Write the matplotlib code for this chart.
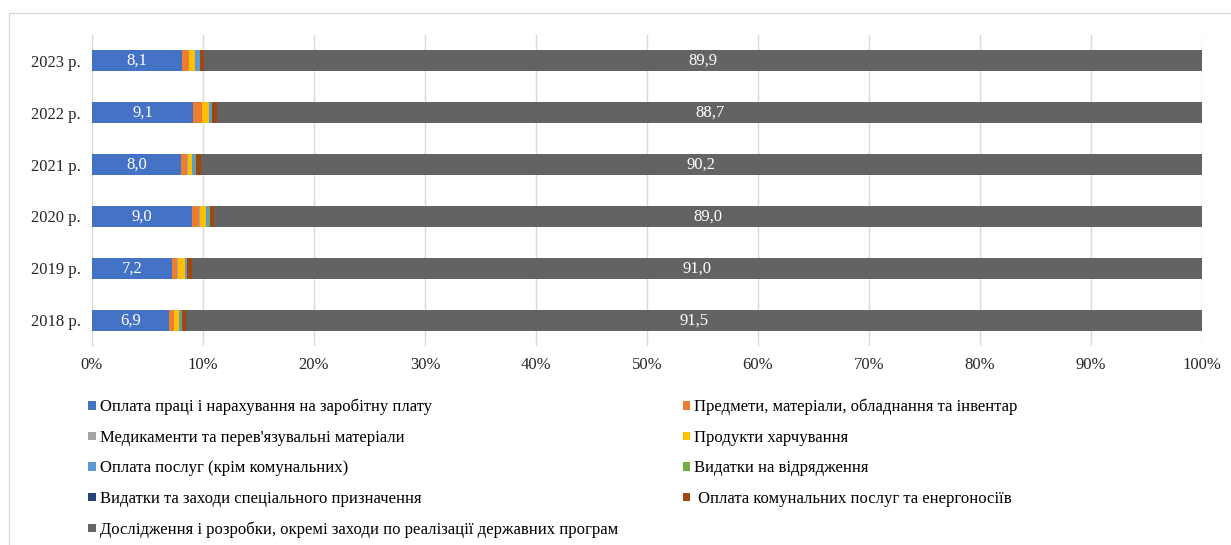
import numpy as np
import matplotlib.pyplot as plt
from matplotlib.patches import Rectangle, Patch

plt.rcParams['font.family'] = ['Liberation Serif', 'DejaVu Serif']

years = ['2018 р.', '2019 р.', '2020 р.', '2021 р.', '2022 р.', '2023 р.']

# shares, % (bottom-to-top order: 2018 ... 2023)
salary = [6.9, 7.2, 9.0, 8.0, 9.1, 8.1]
items = [0.45, 0.5, 0.65, 0.6, 0.8, 0.6]
medicine = [0.05, 0.05, 0.05, 0.05, 0.05, 0.05]
food = [0.45, 0.6, 0.55, 0.4, 0.55, 0.5]
services = [0.2, 0.2, 0.25, 0.2, 0.3, 0.45]
travel = [0.02, 0.02, 0.1, 0.1, 0.03, 0.02]
special = [0.03, 0.03, 0.02, 0.03, 0.02, 0.03]
utilities = [0.4, 0.4, 0.4, 0.45, 0.45, 0.35]
research = [91.5, 91.0, 89.0, 90.2, 88.7, 89.9]

names = ['Оплата праці і нарахування на заробітну плату',
         'Предмети, матеріали, обладнання та інвентар',
         'Медикаменти та перев\'язувальні матеріали',
         'Продукти харчування',
         'Оплата послуг (крім комунальних)',
         'Видатки на відрядження',
         'Видатки та заходи спеціального призначення',
         ' Оплата комунальних послуг та енергоносіїв',
         'Дослідження і розробки, окремі заходи по реалізації державних програм']

colors = ['#4472C4', '#ED7D31', '#A5A5A5', '#FFC000', '#5B9BD5',
          '#70AD47', '#264478', '#9E480E', '#636363']

series = [salary, items, medicine, food, services, travel, special, utilities, research]

fig = plt.figure(figsize=(12.31, 5.45), dpi=100)
ax = fig.add_axes([0.0747, 0.365, 0.9018, 0.571])

y = np.arange(len(years))
left = np.zeros(len(years))
for vals, c in zip(series, colors):
    vals = np.array(vals)
    ax.barh(y, vals, left=left, height=0.4, color=c, zorder=3)
    left += vals

# data labels for first and last series
for i in range(len(years)):
    ax.text(salary[i] / 2, y[i], f'{salary[i]:.1f}'.replace('.', ','),
            ha='center', va='center', color='white', fontsize=12, zorder=4)
    start = 100 - research[i]
    ax.text(start + research[i] / 2, y[i], f'{research[i]:.1f}'.replace('.', ','),
            ha='center', va='center', color='white', fontsize=12, zorder=4)

ax.set_xlim(0, 100)
ax.set_ylim(-0.5, len(years) - 0.5)
ax.set_xticks(np.arange(0, 101, 10))
ax.set_xticklabels([f'{t}%' for t in range(0, 101, 10)])
ax.set_yticks(y)
ax.set_yticklabels(years)
ax.tick_params(length=0, labelsize=12, colors='#262626', pad=8)
ax.grid(axis='x', color='#D9D9D9', linewidth=1, zorder=0)
for s in ['top', 'right', 'bottom']:
    ax.spines[s].set_visible(False)
ax.spines['left'].set_color('#D9D9D9')

# legend in two columns, drawn as two legends
handles = [Patch(facecolor=c, edgecolor='none') for c in colors]
col1 = [0, 2, 4, 6, 8]
col2 = [1, 3, 5, 7]
kw = dict(frameon=False, fontsize=12, handlelength=0.45, handleheight=0.45,
          handletextpad=0.25, labelspacing=0.87, borderaxespad=0, borderpad=0)
fig.legend([handles[i] for i in col1], [names[i] for i in col1],
           loc='upper left', bbox_to_anchor=(0.0715, 0.268), **kw)
fig.legend([handles[i] for i in col2], [names[i] for i in col2],
           loc='upper left', bbox_to_anchor=(0.5545, 0.268), **kw)

# outer chart border
fig.patches.append(Rectangle((9 / 1231, -0.1), 1.2, 1 - 13 / 545 + 0.1,
                             transform=fig.transFigure, fill=False,
                             edgecolor='#D9D9D9', linewidth=1))

plt.savefig('out.png', dpi=100)
